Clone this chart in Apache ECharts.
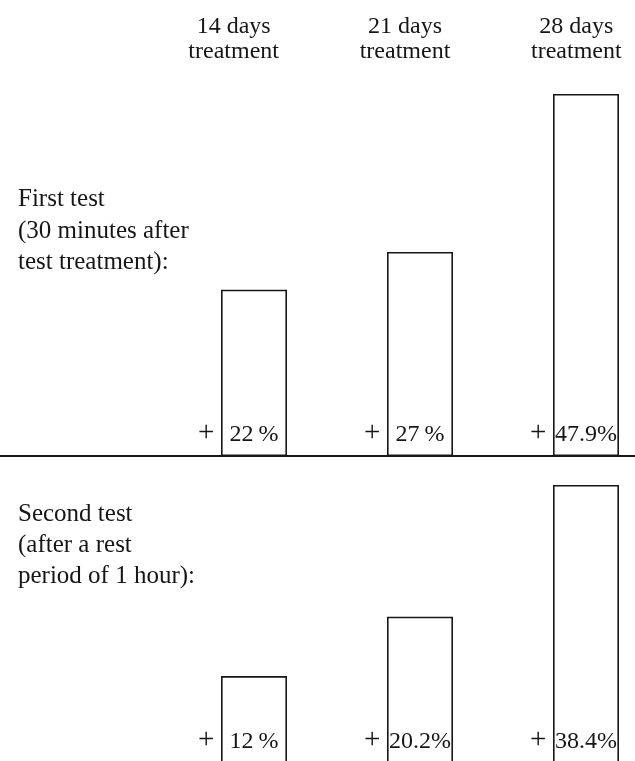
<!DOCTYPE html>
<html>
<head>
<meta charset="utf-8">
<script src="https://cdn.jsdelivr.net/npm/echarts@6/dist/echarts.min.js"></script>
<style>
  html, body { margin: 0; padding: 0; background: #fff; }
  #chart { width: 635px; height: 761px; }
</style>
</head>
<body>
<div id="chart"></div>
<script>
// ---- data ----
const categories = ['14 days\ntreatment', '21 days\ntreatment', '28 days\ntreatment'];
const firstTest = [22, 27, 47.9];
const secondTest = [12, 20.2, 38.4];
const rowLabels = [
  'First test\n(30 minutes after\ntest treatment):',
  'Second test\n(after a rest\nperiod of 1 hour):'
];

// ---- styles ----
const FONT = '"Liberation Serif", "DejaVu Serif", serif';
const INK = '#161616';

const chart = echarts.init(document.getElementById('chart'), null, { renderer: 'canvas' });

function barSeries(idx, data) {
  return [{
    type: 'bar',
    xAxisIndex: idx,
    yAxisIndex: idx,
    data: data,
    barWidth: 66,
    silent: true,
    itemStyle: { color: '#ffffff', borderColor: INK, borderWidth: 1.6 },
    label: {
      show: true,
      position: 'insideBottom',
      distance: 9,
      fontFamily: FONT,
      fontSize: 24,
      color: INK,
      formatter: p => p.value + (Number.isInteger(p.value) ? '\u2009%' : '%')
    }
  }, {
    type: 'bar',
    xAxisIndex: idx,
    yAxisIndex: idx,
    data: data,
    barWidth: 66,
    barGap: '-100%',
    silent: true,
    itemStyle: { color: 'rgba(0,0,0,0)', borderWidth: 0 },
    label: {
      show: true,
      position: 'insideBottomLeft',
      distance: 8,
      offset: [-31, 0],
      fontFamily: FONT,
      fontSize: 29,
      color: INK,
      formatter: '+'
    }
  }];
}

const hiddenY = { type: 'value', min: 0, max: 50, show: false };

const option = {
  backgroundColor: '#ffffff',
  animation: false,
  grid: [
    { left: 171, width: 498, top: 78, height: 378, outerBoundsMode: 'none', containLabel: false },
    { left: 171, width: 498, top: 401, height: 362, outerBoundsMode: 'none', containLabel: false },
    { left: 148, width: 514, top: 70, height: 10, outerBoundsMode: 'none', containLabel: false }
  ],
  xAxis: [
    { gridIndex: 0, type: 'category', data: categories, axisLine: { show: false }, axisTick: { show: false }, axisLabel: { show: false } },
    { gridIndex: 1, type: 'category', data: categories, axisLine: { show: false }, axisTick: { show: false }, axisLabel: { show: false } },
    { gridIndex: 2, type: 'category', data: categories, position: 'top',
      axisLine: { show: false }, axisTick: { show: false },
      axisLabel: { show: true, interval: 0, margin: 6, fontFamily: FONT, fontSize: 24, lineHeight: 25, color: INK } }
  ],
  yAxis: [
    Object.assign({ gridIndex: 0 }, hiddenY),
    Object.assign({ gridIndex: 1 }, hiddenY),
    Object.assign({ gridIndex: 2 }, hiddenY)
  ],
  series: [].concat(barSeries(0, firstTest), barSeries(1, secondTest)),
  graphic: [
    { type: 'line', silent: true, z: 10,
      shape: { x1: 0, y1: 456, x2: 635, y2: 456 },
      style: { stroke: INK, lineWidth: 2 } },
    { type: 'text', left: 18, top: 184, silent: true,
      style: { text: rowLabels[0], font: '25px ' + FONT, lineHeight: 31.5, fill: INK } },
    { type: 'text', left: 18, top: 499, silent: true,
      style: { text: rowLabels[1], font: '25px ' + FONT, lineHeight: 31, fill: INK } }
  ]
};

chart.setOption(option);
</script>
</body>
</html>
